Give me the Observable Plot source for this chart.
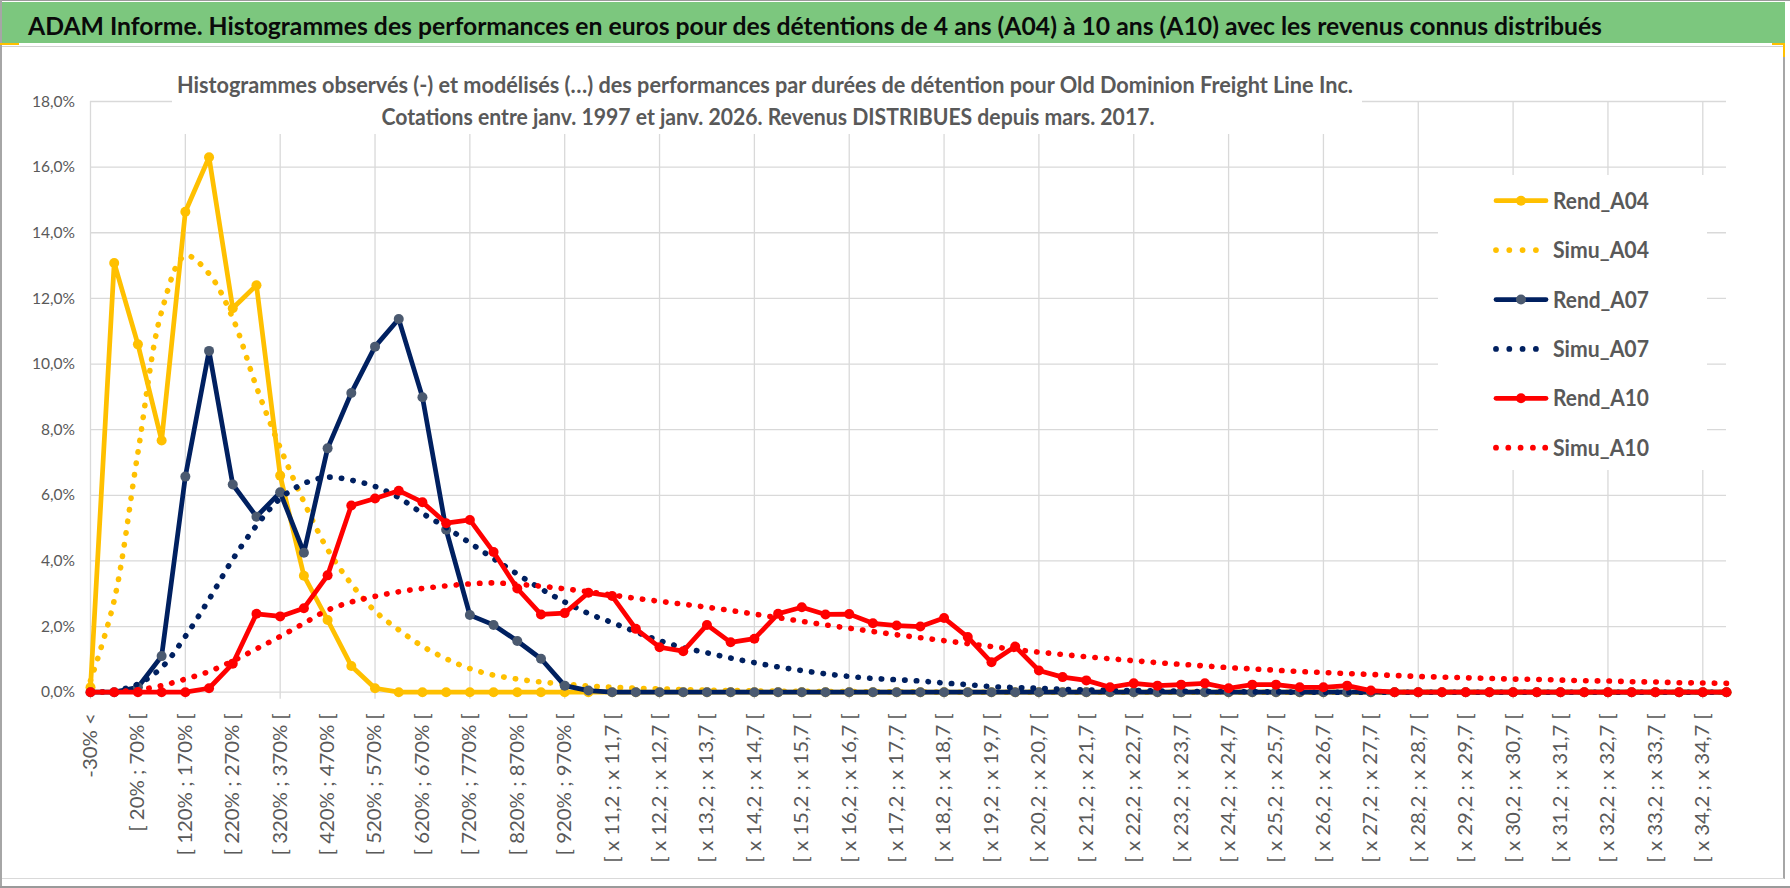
<!DOCTYPE html>
<html lang="fr">
<head>
<meta charset="utf-8">
<script src="https://cdn.jsdelivr.net/npm/d3@7"></script>
<script src="https://cdn.jsdelivr.net/npm/@observablehq/plot@0.6"></script>
<style>
  html, body { margin:0; padding:0; background:#fff; }
  body { width:1790px; height:888px; overflow:hidden; position:relative; }
  #topline { position:absolute; left:0; top:0; width:1790px; height:1px; background:#9a9a9a; }
  #leftline { position:absolute; left:0; top:0; width:2px; height:888px; background:#a6a6a6; }
  #title { position:absolute; left:2px; top:2px; width:1783px; height:41px; background:#7cc77e; }
  #title svg { display:block; }
  #frame { position:absolute; left:2px; top:46px; width:1783px; height:833px; box-sizing:border-box;
           border-top:1px solid #d0d0d0; border-right:2px solid #a6a6a6;
           border-bottom:1px solid #d9d9d9; }
  #bottomline { position:absolute; left:0; top:886px; width:1790px; height:2px; background:#9a9a9a; }
  #chart { position:absolute; left:0; top:46px; }
  #chart svg { display:block; }
  .acc { position:absolute; background:#ffc000; }
</style>
</head>
<body>
<div id="topline"></div>
<div id="title"></div>
<div id="frame"></div>
<div id="leftline"></div>
<div id="bottomline"></div>
<div class="acc" style="left:0;top:43px;width:19px;height:2px"></div>
<div class="acc" style="left:1772px;top:43px;width:13px;height:2px"></div>
<div class="acc" style="left:1783px;top:43px;width:2px;height:14px"></div>
<div id="chart"></div>
<script>
// ---------------- data ----------------
const titleText = "ADAM Informe. Histogrammes des performances en euros pour des détentions de 4 ans (A04) à 10 ans (A10) avec les revenus connus distribués";
const subtitleLines = [
  "Histogrammes observés (-) et modélisés (…) des performances par durées de détention pour Old Dominion Freight Line Inc.",
  "Cotations entre janv. 1997 et janv. 2026. Revenus DISTRIBUES depuis mars. 2017."
];

const categories = [
  "-30% <", "[ -30% ; 20% [", "[ 20% ; 70% [", "[ 70% ; 120% [", "[ 120% ; 170% [",
  "[ 170% ; 220% [", "[ 220% ; 270% [", "[ 270% ; 320% [", "[ 320% ; 370% [", "[ 370% ; 420% [",
  "[ 420% ; 470% [", "[ 470% ; 520% [", "[ 520% ; 570% [", "[ 570% ; 620% [", "[ 620% ; 670% [",
  "[ 670% ; 720% [", "[ 720% ; 770% [", "[ 770% ; 820% [", "[ 820% ; 870% [", "[ 870% ; 920% [",
  "[ 920% ; 970% [", "[ 970% ; x 11,2 [",
  "[ x 11,2 ; x 11,7 [", "[ x 11,7 ; x 12,2 [", "[ x 12,2 ; x 12,7 [", "[ x 12,7 ; x 13,2 [",
  "[ x 13,2 ; x 13,7 [", "[ x 13,7 ; x 14,2 [", "[ x 14,2 ; x 14,7 [", "[ x 14,7 ; x 15,2 [",
  "[ x 15,2 ; x 15,7 [", "[ x 15,7 ; x 16,2 [", "[ x 16,2 ; x 16,7 [", "[ x 16,7 ; x 17,2 [",
  "[ x 17,2 ; x 17,7 [", "[ x 17,7 ; x 18,2 [", "[ x 18,2 ; x 18,7 [", "[ x 18,7 ; x 19,2 [",
  "[ x 19,2 ; x 19,7 [", "[ x 19,7 ; x 20,2 [", "[ x 20,2 ; x 20,7 [", "[ x 20,7 ; x 21,2 [",
  "[ x 21,2 ; x 21,7 [", "[ x 21,7 ; x 22,2 [", "[ x 22,2 ; x 22,7 [", "[ x 22,7 ; x 23,2 [",
  "[ x 23,2 ; x 23,7 [", "[ x 23,7 ; x 24,2 [", "[ x 24,2 ; x 24,7 [", "[ x 24,7 ; x 25,2 [",
  "[ x 25,2 ; x 25,7 [", "[ x 25,7 ; x 26,2 [", "[ x 26,2 ; x 26,7 [", "[ x 26,7 ; x 27,2 [",
  "[ x 27,2 ; x 27,7 [", "[ x 27,7 ; x 28,2 [", "[ x 28,2 ; x 28,7 [", "[ x 28,7 ; x 29,2 [",
  "[ x 29,2 ; x 29,7 [", "[ x 29,7 ; x 30,2 [", "[ x 30,2 ; x 30,7 [", "[ x 30,7 ; x 31,2 [",
  "[ x 31,2 ; x 31,7 [", "[ x 31,7 ; x 32,2 [", "[ x 32,2 ; x 32,7 [", "[ x 32,7 ; x 33,2 [",
  "[ x 33,2 ; x 33,7 [", "[ x 33,7 ; x 34,2 [", "[ x 34,2 ; x 34,7 [", "[ x 34,7 ; x 35,2 ["
];

// values in %
const rendA04 = [
  0.15, 13.08, 10.6, 7.67, 14.64, 16.3, 11.7, 12.4, 6.6, 3.55,
  2.2, 0.8, 0.12, 0, 0, 0, 0, 0, 0, 0,
  0, 0, 0, 0, 0, 0, 0, 0, 0, 0,
  0, 0, 0, 0, 0, 0, 0, 0, 0, 0,
  0, 0, 0, 0, 0, 0, 0, 0, 0, 0,
  0, 0, 0, 0, 0, 0, 0, 0, 0, 0,
  0, 0, 0, 0, 0, 0, 0, 0, 0, 0
];
const simuA04 = [
  0.35, 2.8, 7.3, 11.6, 13.3, 12.75, 11.4, 9.3, 7.45, 5.8,
  4.35, 3.3, 2.47, 1.9, 1.4, 1.02, 0.72, 0.52, 0.4, 0.31,
  0.25, 0.19, 0.15, 0.12, 0.1, 0.08, 0.06, 0.05, 0.04, 0.03,
  0.03, 0.02, 0.02, 0.01, 0.01, 0.01, 0, 0, 0, 0,
  0, 0, 0, 0, 0, 0, 0, 0, 0, 0,
  0, 0, 0, 0, 0, 0, 0, 0, 0, 0,
  0, 0, 0, 0, 0, 0, 0, 0, 0, 0
];
const rendA07 = [
  0, 0, 0.15, 1.1, 6.57, 10.4, 6.33, 5.35, 6.09, 4.25,
  7.43, 9.12, 10.53, 11.37, 8.99, 4.95, 2.35, 2.05, 1.56, 1.02,
  0.2, 0.05, 0, 0, 0, 0, 0, 0, 0, 0,
  0, 0, 0, 0, 0, 0, 0, 0, 0, 0,
  0, 0, 0, 0, 0, 0, 0, 0, 0, 0,
  0, 0, 0, 0, 0, 0, 0, 0, 0, 0,
  0, 0, 0, 0, 0, 0, 0, 0, 0, 0
];
const simuA07 = [
  0, 0.04, 0.25, 0.75, 1.7, 2.83, 4.05, 5.08, 5.9, 6.36,
  6.55, 6.46, 6.27, 5.93, 5.45, 5.02, 4.55, 4.07, 3.6, 3.15,
  2.75, 2.4, 2.12, 1.84, 1.57, 1.36, 1.2, 1.04, 0.9, 0.77,
  0.66, 0.56, 0.48, 0.42, 0.38, 0.34, 0.28, 0.23, 0.17, 0.14,
  0.12, 0.09, 0.07, 0.06, 0.05, 0.04, 0.03, 0.02, 0.02, 0.01,
  0.01, 0, 0, 0, 0, 0, 0, 0, 0, 0,
  0, 0, 0, 0, 0, 0, 0, 0, 0, 0
];
const rendA10 = [
  0, 0, 0, 0, 0, 0.12, 0.87, 2.39, 2.31, 2.56,
  3.56, 5.69, 5.9, 6.14, 5.79, 5.15, 5.25, 4.27, 3.16, 2.37,
  2.41, 3.03, 2.93, 1.93, 1.37, 1.25, 2.05, 1.52, 1.63, 2.39,
  2.59, 2.37, 2.38, 2.1, 2.03, 2.0, 2.26, 1.68, 0.91, 1.39,
  0.66, 0.46, 0.36, 0.15, 0.27, 0.2, 0.23, 0.27, 0.12, 0.23,
  0.23, 0.15, 0.15, 0.2, 0.05, 0, 0, 0, 0, 0,
  0, 0, 0, 0, 0, 0, 0, 0, 0, 0
];
const simuA10 = [
  0, 0.02, 0.07, 0.2, 0.4, 0.63, 0.95, 1.32, 1.7, 2.1,
  2.5, 2.75, 2.92, 3.06, 3.16, 3.24, 3.3, 3.33, 3.29, 3.23,
  3.15, 3.06, 2.96, 2.86, 2.77, 2.68, 2.59, 2.49, 2.38, 2.27,
  2.16, 2.05, 1.95, 1.85, 1.75, 1.66, 1.57, 1.48, 1.39, 1.3,
  1.22, 1.15, 1.08, 1.02, 0.96, 0.9, 0.85, 0.8, 0.75, 0.71,
  0.67, 0.63, 0.6, 0.57, 0.54, 0.51, 0.48, 0.46, 0.44, 0.42,
  0.4, 0.39, 0.37, 0.35, 0.34, 0.32, 0.31, 0.29, 0.28, 0.27
];

const yTicks = [0, 0.02, 0.04, 0.06, 0.08, 0.10, 0.12, 0.14, 0.16, 0.18];
const seriesNames = ["Rend_A04", "Simu_A04", "Rend_A07", "Simu_A07", "Rend_A10", "Simu_A10"];
const seriesValues = [rendA04, simuA04, rendA07, simuA07, rendA10, simuA10];
const seriesColors = ["#FFC000", "#FFC000", "#002060", "#002060", "#FF0000", "#FF0000"];
const markerColors = ["#FFC000", null, "#4B5A70", null, "#FF0000", null];

// ---------------- layout ----------------
const FONT = 'Lato, "Open Sans", "Liberation Sans", sans-serif';
const TOP = 46;
const W = 1790, H = 888 - TOP;
const plotLeft = 90, plotRight = 1726, plotTop = 101 - TOP, plotBottom = 691.7 - TOP;
const GRID = "#d9d9d9", TXT = "#595959";

const frLocale = d3.formatLocale({decimal: ",", thousands: "\u00a0", grouping: [3], currency: ["", "\u00a0€"]});
const pct = frLocale.format(".1%");

const labelCats = categories.filter((c, i) => i % 2 === 0);
const gridCats = categories.filter((c, i) => i % 4 === 0);

// title bar
d3.select("#title").append("svg").attr("width", 1783).attr("height", 41)
  .append("text")
  .attr("x", 26).attr("y", 33)
  .attr("font-family", FONT).attr("font-weight", "bold").attr("font-size", 24.5).attr("fill", "#0a0a0a")
  .attr("textLength", 1574).attr("lengthAdjust", "spacingAndGlyphs")
  .text(titleText);

const marks = [
  Plot.gridY(yTicks, {stroke: GRID, strokeOpacity: 1, strokeWidth: 1.3}),
  Plot.gridX(gridCats, {stroke: GRID, strokeOpacity: 1, strokeWidth: 1.3, insetBottom: -7}),
  Plot.axisY(yTicks, {tickSize: 0, tickPadding: 15.5, tickFormat: pct, fontSize: 16, label: null}),
  Plot.axisX(labelCats, {tickSize: 0, tickPadding: 21, tickRotate: -90, fontSize: 20, label: null})
];

seriesNames.forEach((name, k) => {
  const rows = seriesValues[k].map((v, i) => ({cat: categories[i], v: v / 100}));
  if (name.startsWith("Rend")) {
    marks.push(Plot.lineY(rows, {x: "cat", y: "v", stroke: seriesColors[k], strokeWidth: 4.75,
      strokeLinejoin: "round", strokeLinecap: "round"}));
    marks.push(Plot.dot(rows, {x: "cat", y: "v", r: 5, fill: markerColors[k]}));
  } else {
    marks.push(Plot.lineY(rows, {x: "cat", y: "v", stroke: seriesColors[k], strokeWidth: 5.6,
      strokeDasharray: "0.4 11.3", strokeLinecap: "round", curve: "catmull-rom"}));
  }
});

const plot = Plot.plot({
  width: W, height: H,
  marginLeft: plotLeft, marginRight: W - plotRight, marginTop: plotTop, marginBottom: H - plotBottom,
  style: {fontFamily: FONT, background: "transparent", color: TXT},
  x: {type: "point", domain: categories, padding: 0, axis: null},
  y: {domain: [0, 0.18], axis: null},
  marks
});
document.getElementById("chart").appendChild(plot);

const svg = d3.select(plot);

// emulate the narrow office font: compress axis labels to the reference proportions
function compress(selector, refText, refLen) {
  const nodes = svg.selectAll(selector).nodes();
  let factor = 1;
  for (const n of nodes) {
    if (n.textContent === refText) { factor = refLen / n.getComputedTextLength(); break; }
  }
  for (const n of nodes) {
    const len = n.getComputedTextLength() * factor;
    n.setAttribute("textLength", len.toFixed(2));
    n.setAttribute("lengthAdjust", "spacingAndGlyphs");
  }
}
compress('g[aria-label="y-axis tick label"] text', "16,0%", 43);
compress('g[aria-label="x-axis tick label"] text', "[ 120% ; 170% [", 142);

// white boxes (subtitle area and legend) above grid, below data
const firstLine = plot.querySelector('g[aria-label="line"]');
const boxG = d3.select(plot.insertBefore(document.createElementNS("http://www.w3.org/2000/svg", "g"), firstLine));
boxG.append("rect").attr("x", 172).attr("y", 50 - TOP).attr("width", 1190).attr("height", 84).attr("fill", "#fff");
boxG.append("rect").attr("x", 1438).attr("y", 175 - TOP).attr("width", 269).attr("height", 295).attr("fill", "#fff");

// subtitle
const sub = svg.append("g").attr("font-family", FONT).attr("font-weight", "bold").attr("font-size", 22)
  .attr("fill", TXT).attr("text-anchor", "middle");
sub.append("text").attr("x", 765).attr("y", 93 - TOP)
  .attr("textLength", 1176).attr("lengthAdjust", "spacingAndGlyphs").text(subtitleLines[0]);
sub.append("text").attr("x", 768).attr("y", 125 - TOP)
  .attr("textLength", 773).attr("lengthAdjust", "spacingAndGlyphs").text(subtitleLines[1]);

// legend
const leg = svg.append("g");
seriesNames.forEach((name, k) => {
  const cy = 200.7 + k * 49.4 - TOP;
  const col = seriesColors[k];
  if (name.startsWith("Rend")) {
    leg.append("line").attr("x1", 1496).attr("x2", 1546).attr("y1", cy).attr("y2", cy)
      .attr("stroke", col).attr("stroke-width", 4.75).attr("stroke-linecap", "round");
    leg.append("circle").attr("cx", 1521).attr("cy", cy).attr("r", 5).attr("fill", markerColors[k]);
  } else {
    const n = name.endsWith("A10") ? 5 : 4;
    const step = n === 5 ? 12.3 : 13.3;
    for (let j = 0; j < n; j++) {
      leg.append("circle").attr("cx", 1496 + j * step).attr("cy", cy).attr("r", 2.9).attr("fill", col);
    }
  }
  leg.append("text").attr("x", 1553).attr("y", cy + 8)
    .attr("text-anchor", "start")
    .attr("font-family", FONT).attr("font-weight", "bold").attr("font-size", 22).attr("fill", TXT)
    .attr("textLength", 96).attr("lengthAdjust", "spacingAndGlyphs").text(name);
});
</script>
</body>
</html>
